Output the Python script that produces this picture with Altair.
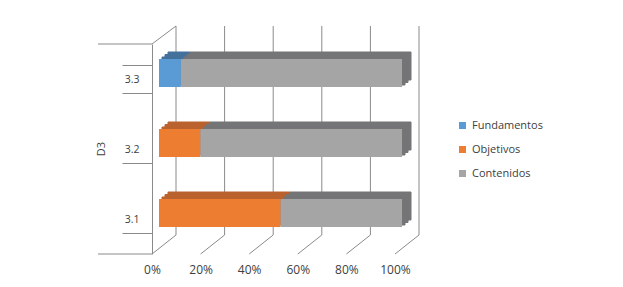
import altair as alt
import pandas as pd

# ---- data ----
categories = ["3.3", "3.2", "3.1"]
series = ["Fundamentos", "Objetivos", "Contenidos"]
fundamentos = [9, 0, 0]
objetivos = [0, 17, 50]
contenidos = [91, 83, 50]
tick_values = [0, 20, 40, 60, 80, 100]

front_colors = ["#5b9bd5", "#ed7d31", "#a5a5a5"]
back_colors = ["#44709c", "#b9622e", "#747577"]

rows = []
for i, c in enumerate(categories):
    start = 0
    for s, vals, dark in zip(series, [fundamentos, objetivos, contenidos], back_colors):
        v = vals[i]
        rows.append({"cat": c, "serie": s, "start": start, "end": start + v, "dark": dark})
        start += v
df = pd.DataFrame(rows)
df = df[df["end"] > df["start"]]
ticks = pd.DataFrame({"v": tick_values})

FONT = "Open Sans"
GRID = "#8a8a8a"

xscale = alt.Scale(domain=[0, 100], nice=False, zero=True)
yscale = alt.Scale(domain=categories, paddingInner=0.6, paddingOuter=0.3)

xaxis = alt.Axis(
    title=None,
    values=tick_values,
    labelExpr="datum.value + '%'",
    labelFlush=False,
    labelOverlap=False,
    domain=False,
    ticks=False,
    grid=False,
    labelPadding=10,
    labelFont=FONT,
    labelFontSize=12,
    labelColor="#404040",
)
yaxis = alt.Axis(
    title=None,
    domain=True,
    domainColor=GRID,
    ticks=True,
    tickBand="extent",
    tickSize=30,
    tickColor=GRID,
    labelPadding=-17,
    labelFont=FONT,
    labelFontSize=10.5,
    labelColor="#404040",
)

base_ticks = alt.Chart(ticks)

back_grid = base_ticks.mark_rule(color=GRID, strokeWidth=1, xOffset=24).encode(
    x=alt.X("v:Q", scale=xscale, axis=xaxis),
    y=alt.value(-18),
    y2=alt.value(191),
)
floor = base_ticks.mark_rule(color=GRID, strokeWidth=1, x2Offset=24, y2Offset=-19).encode(
    x=alt.X("v:Q", scale=xscale, axis=xaxis),
    x2="v:Q",
    y=alt.value(210),
    y2=alt.value(210),
)
wall_top = alt.Chart(pd.DataFrame({"v": [0]})).mark_rule(
    color=GRID, strokeWidth=1, x2Offset=24, y2Offset=-18
).encode(
    x=alt.X("v:Q", scale=xscale, axis=xaxis),
    x2="v:Q",
    y=alt.value(0),
    y2=alt.value(0),
)
outer_top = alt.Chart(pd.DataFrame({"v": [0]})).mark_rule(color=GRID).encode(
    x=alt.value(-54), x2=alt.value(0), y=alt.value(0)
)
outer_bottom = alt.Chart(pd.DataFrame({"v": [0]})).mark_rule(color=GRID).encode(
    x=alt.value(-54), x2=alt.value(0), y=alt.value(210)
)
group_label = alt.Chart(pd.DataFrame({"t": ["D3"]})).mark_text(
    angle=270, font=FONT, fontSize=11, color="#404040"
).encode(x=alt.value(-50), y=alt.value(105), text="t:N")


def depth_layer(dx, dy):
    return alt.Chart(df).mark_bar(
        xOffset=dx, x2Offset=dx, yOffset=dy, y2Offset=dy, strokeWidth=1
    ).encode(
        y=alt.Y("cat:N", scale=yscale, sort=categories, axis=yaxis),
        x=alt.X("start:Q", scale=xscale, axis=xaxis),
        x2="end:Q",
        fill=alt.Fill("dark:N", scale=None, legend=None),
        stroke=alt.Stroke("dark:N", scale=None, legend=None),
    )


back_bars = [depth_layer(16, -13), depth_layer(13, -10.5), depth_layer(10, -8)]

front_bars = alt.Chart(df).mark_bar(
    xOffset=7, x2Offset=7, yOffset=-6, y2Offset=-6
).encode(
    y=alt.Y("cat:N", scale=yscale, sort=categories, axis=yaxis),
    x=alt.X("start:Q", scale=xscale, axis=xaxis),
    x2="end:Q",
    color=alt.Color(
        "serie:N",
        scale=alt.Scale(domain=series, range=front_colors),
        legend=alt.Legend(
            title=None,
            orient="none",
            legendX=305,
            legendY=76,
            symbolType="square",
            symbolSize=49,
            symbolStrokeWidth=0,
            labelFont=FONT,
            labelFontSize=11,
            labelColor="#404040",
            rowPadding=12,
            padding=0,
        ),
    ),
)

chart = alt.layer(
    back_grid, floor, wall_top, outer_top, outer_bottom, group_label, *back_bars, front_bars
).properties(
    width=243,
    height=210,
    autosize=alt.AutoSizeParams(type="none"),
    padding={"left": 152, "top": 44, "right": 228, "bottom": 33},
).configure_view(stroke=None)

chart.save("out.html", embed_options={"renderer": "svg", "actions": False})
